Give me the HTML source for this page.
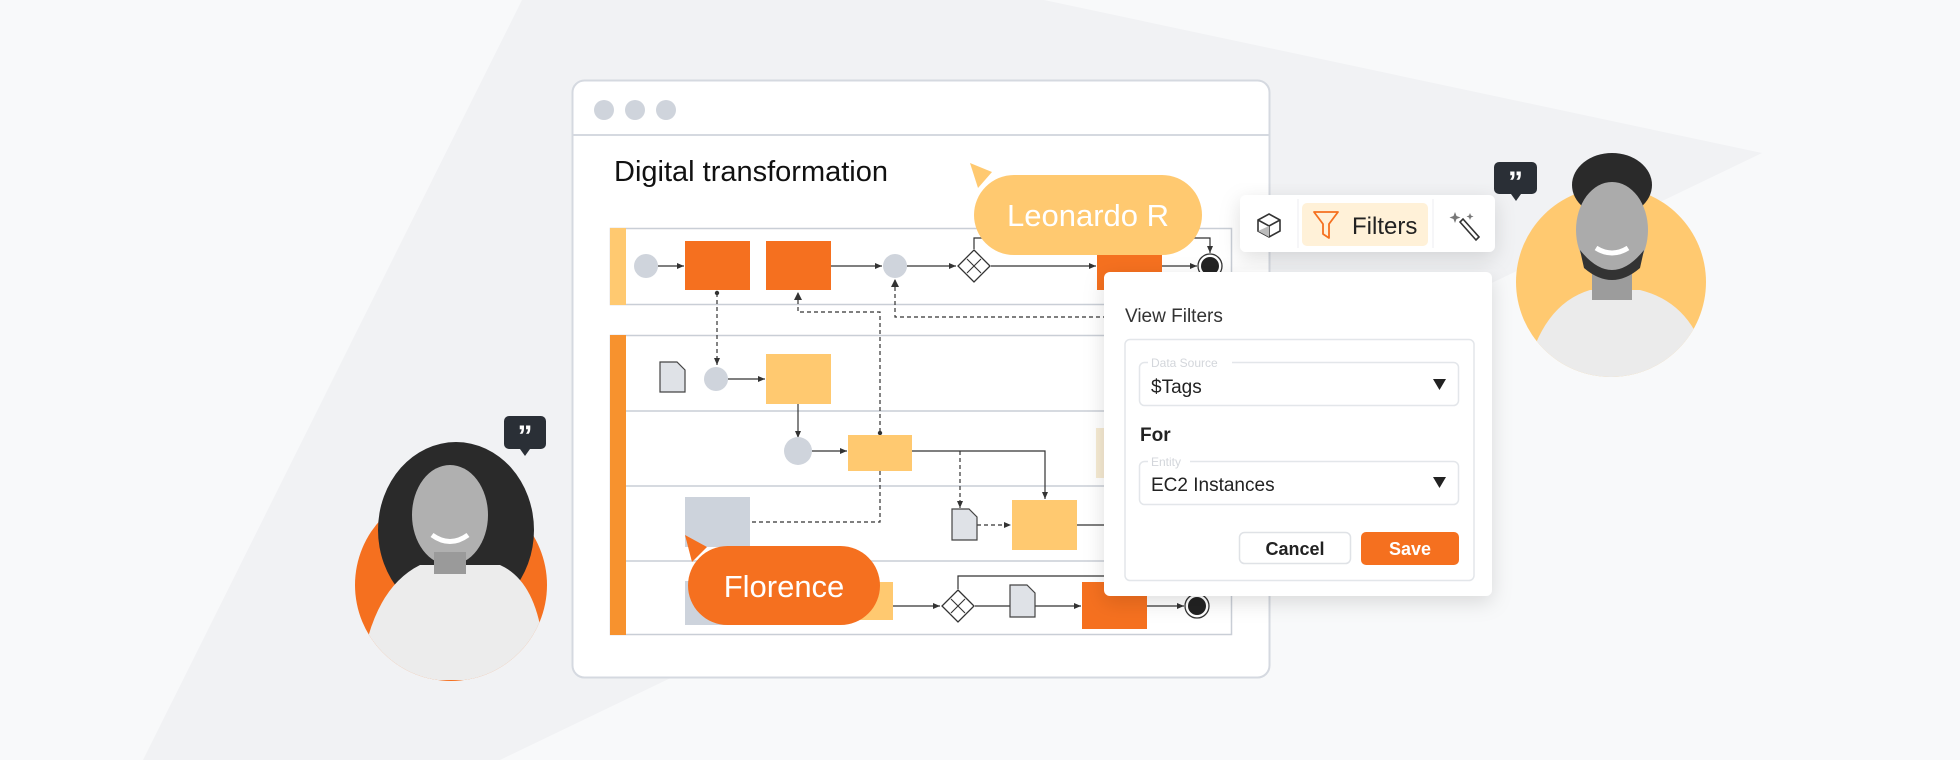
<!DOCTYPE html>
<html><head><meta charset="utf-8"><style>
html,body{margin:0;padding:0;width:1960px;height:760px;overflow:hidden;background:#f8f9fa}
svg{display:block}
text{font-family:"Liberation Sans",sans-serif}
</style></head><body>
<svg width="1960" height="760" viewBox="0 0 1960 760" xmlns="http://www.w3.org/2000/svg">
<defs>
<marker id="a" markerWidth="8" markerHeight="8" refX="7" refY="4" orient="auto" markerUnits="userSpaceOnUse"><path d="M0,1 L7,4 L0,7z" fill="#333"/></marker>
<marker id="d" markerWidth="6" markerHeight="6" refX="3" refY="3" markerUnits="userSpaceOnUse"><circle cx="3" cy="3" r="2.2" fill="#333"/></marker>
<filter id="sh" x="-20%" y="-20%" width="140%" height="150%"><feDropShadow dx="0" dy="6" stdDeviation="10" flood-color="#000" flood-opacity="0.13"/></filter>
<clipPath id="c1"><circle cx="451" cy="585" r="96"/><rect x="340" y="400" width="230" height="185"/></clipPath>
<clipPath id="c2"><circle cx="1611" cy="282" r="95"/><rect x="1500" y="140" width="230" height="142"/></clipPath>
</defs>
<polygon points="522,0 1044,0 1762,153 500,760 143,760" fill="#f1f2f4"/>

<rect x="572.5" y="80.5" width="697" height="597" rx="12" fill="#fff" stroke="#d5d9e0" stroke-width="2"/>
<line x1="573" y1="135" x2="1269" y2="135" stroke="#d5d9e0" stroke-width="2"/>
<circle cx="604" cy="110" r="10" fill="#cfd4dc"/><circle cx="635" cy="110" r="10" fill="#cfd4dc"/><circle cx="666" cy="110" r="10" fill="#cfd4dc"/>
<text x="614" y="181" font-size="29" fill="#111">Digital transformation</text>

<rect x="610.5" y="228.5" width="621" height="76" fill="#fff" stroke="#c9ced6" stroke-width="1.5"/>
<rect x="610" y="228" width="16" height="77" fill="#ffc970"/>
<rect x="610.5" y="335.5" width="621" height="299" fill="#fff" stroke="#c9ced6" stroke-width="1.5"/>
<rect x="610" y="335" width="16" height="300" fill="#f7922e"/>
<g stroke="#c9ced6" stroke-width="1.5"><line x1="626" y1="411" x2="1231" y2="411"/><line x1="626" y1="486" x2="1231" y2="486"/><line x1="626" y1="561" x2="1231" y2="561"/></g>

<g stroke="#333" stroke-width="1.2" fill="none">
<line x1="658" y1="266" x2="684" y2="266" marker-end="url(#a)"/>
<line x1="831" y1="266" x2="882" y2="266" marker-end="url(#a)"/>
<line x1="907" y1="266" x2="956" y2="266" marker-end="url(#a)"/>
<line x1="991" y1="266" x2="1096" y2="266" marker-end="url(#a)"/>
<line x1="1162" y1="266" x2="1197" y2="266" marker-end="url(#a)"/>
<path d="M974,249 V238 H1210 V253" marker-end="url(#a)"/>
<line x1="798" y1="404" x2="798" y2="438" marker-end="url(#a)"/>
<line x1="728" y1="379" x2="765" y2="379" marker-end="url(#a)"/>
<line x1="812" y1="451" x2="847" y2="451" marker-end="url(#a)"/>
<path d="M912,451 H1045 V499" marker-end="url(#a)"/>
<line x1="1077" y1="525" x2="1104" y2="525"/>
<line x1="893" y1="606" x2="940" y2="606" marker-end="url(#a)"/>
<line x1="975" y1="606" x2="1010" y2="606"/>
<line x1="1035" y1="606" x2="1081" y2="606" marker-end="url(#a)"/>
<line x1="1147" y1="606" x2="1184" y2="606" marker-end="url(#a)"/>
<path d="M958,589 V576 H1104"/>
</g>
<g stroke="#333" stroke-width="1.2" fill="none" stroke-dasharray="4,3">
<line x1="717" y1="293" x2="717" y2="365" marker-start="url(#d)" marker-end="url(#a)"/>
<path d="M798,293 V312 H880 V433" marker-end="url(#d)"/>
<path d="M895,280 V317 H1104"/>
<path d="M880,471 V522 H750"/>
<line x1="960" y1="451" x2="960" y2="508" marker-end="url(#a)"/>
<line x1="977" y1="525" x2="1011" y2="525" marker-end="url(#a)"/>
</g>
<path d="M794,300 L798,292 L802,300z" fill="#333"/>
<path d="M891,287 L895,279 L899,287z" fill="#333"/>

<circle cx="646" cy="266" r="12" fill="#cfd4dc"/>
<rect x="685" y="241" width="65" height="49" fill="#f5701f"/>
<rect x="766" y="241" width="65" height="49" fill="#f5701f"/>
<circle cx="895" cy="266" r="12" fill="#cfd4dc"/>
<g transform="translate(974,266)"><path d="M0,-16 L16,0 L0,16 L-16,0z" fill="#fff" stroke="#333" stroke-width="1.3"/><path d="M-7,-7 L7,7 M7,-7 L-7,7" stroke="#333" stroke-width="1.1"/></g>
<rect x="1097" y="241" width="65" height="49" fill="#f5701f"/>
<circle cx="1210" cy="266" r="12" fill="#fff" stroke="#333" stroke-width="1.3"/><circle cx="1210" cy="266" r="9" fill="#222"/>

<path d="M660,362 H677 L685,370 V392 H660z" fill="#dfe2e7" stroke="#444" stroke-width="1.2"/>
<circle cx="716" cy="379" r="12" fill="#cfd4dc"/>
<rect x="766" y="354" width="65" height="50" fill="#ffc970"/>
<circle cx="798" cy="451" r="14" fill="#cfd4dc"/>
<rect x="848" y="435" width="64" height="36" fill="#ffc970"/>
<rect x="1096" y="428" width="10" height="50" fill="#f6ead2"/>
<rect x="685" y="497" width="65" height="50" fill="#cdd3dc"/>
<path d="M952,509 H969 L977,517 V540 H952z" fill="#dfe2e7" stroke="#444" stroke-width="1.2"/>
<rect x="1012" y="500" width="65" height="50" fill="#ffc970"/>
<rect x="685" y="581" width="60" height="44" fill="#cdd3dc"/>
<rect x="860" y="582" width="33" height="38" fill="#ffc970"/>
<g transform="translate(958,606)"><path d="M0,-16 L16,0 L0,16 L-16,0z" fill="#fff" stroke="#333" stroke-width="1.3"/><path d="M-7,-7 L7,7 M7,-7 L-7,7" stroke="#333" stroke-width="1.1"/></g>
<path d="M1010,585 H1027 L1035,593 V617 H1010z" fill="#dfe2e7" stroke="#444" stroke-width="1.2"/>
<rect x="1082" y="582" width="65" height="47" fill="#f5701f"/>
<circle cx="1197" cy="606" r="12" fill="#fff" stroke="#333" stroke-width="1.3"/><circle cx="1197" cy="606" r="9" fill="#222"/>

<path d="M970,163 L992,172 L978,188z" fill="#ffc970"/>
<rect x="974" y="175" width="228" height="80" rx="40" fill="#ffc970"/>
<text x="1088" y="226" font-size="31" fill="#fff" text-anchor="middle">Leonardo R</text>
<path d="M685,535 L707,547 L692,562z" fill="#f5701f"/>
<rect x="688" y="546" width="192" height="79" rx="39.5" fill="#f5701f"/>
<text x="784" y="597" font-size="31" fill="#fff" text-anchor="middle">Florence</text>

<g filter="url(#sh)"><rect x="1240" y="195" width="255" height="57" rx="6" fill="#fff"/></g>
<line x1="1298" y1="199" x2="1298" y2="248" stroke="#eceef1"/><line x1="1433" y1="199" x2="1433" y2="248" stroke="#eceef1"/>
<rect x="1302" y="203" width="126" height="43" rx="5" fill="#fff1d8"/>
<g transform="translate(1269,225)" stroke="#333" stroke-width="1.6" fill="none"><path d="M0,-11 L11,-5 L11,6 L0,12 L-11,6 L-11,-5z M-11,-5 L0,1 L11,-5 M0,1 V12"/><path d="M-11,6 L0,1 L0,12z" fill="#bbb" stroke="none"/></g>
<path d="M1314,212 H1338 L1329,224 V238 L1323,234 V224z" fill="none" stroke="#f5701f" stroke-width="1.8" stroke-linejoin="round"/>
<text x="1352" y="234" font-size="24" fill="#222">Filters</text>
<g stroke="#333" stroke-width="1.6" fill="none"><path d="M1460,222 L1476,240 L1479,237 L1463,219z"/></g>
<path d="M1455,212 l1.5,4 4,1.5 -4,1.5 -1.5,4 -1.5,-4 -4,-1.5 4,-1.5z" fill="#777"/><path d="M1470,213 l1,2.5 2.5,1 -2.5,1 -1,2.5 -1,-2.5 -2.5,-1 2.5,-1z" fill="#777"/>

<g filter="url(#sh)"><rect x="1104" y="272" width="388" height="324" rx="6" fill="#fff"/></g>
<text x="1125" y="322" font-size="19" fill="#333">View Filters</text>
<rect x="1125" y="339.5" width="349" height="241" rx="5" fill="#fff" stroke="#e3e6ea" stroke-width="1.5"/>
<rect x="1139.5" y="362.5" width="319" height="43" rx="5" fill="#fff" stroke="#e3e6ea" stroke-width="1.5"/>
<rect x="1148" y="355" width="84" height="14" fill="#fff"/>
<text x="1151" y="367" font-size="12" fill="#d3d6db">Data Source</text>
<text x="1151" y="393" font-size="19" fill="#222">$Tags</text>
<path d="M1433,379 H1446 L1439.5,390z" fill="#222"/>
<text x="1140" y="441" font-size="19" font-weight="bold" fill="#222">For</text>
<rect x="1139.5" y="461.5" width="319" height="43" rx="5" fill="#fff" stroke="#e3e6ea" stroke-width="1.5"/>
<rect x="1148" y="454" width="42" height="14" fill="#fff"/>
<text x="1151" y="466" font-size="12" fill="#d3d6db">Entity</text>
<text x="1151" y="491" font-size="19" fill="#222">EC2 Instances</text>
<path d="M1433,477 H1446 L1439.5,488z" fill="#222"/>
<rect x="1239.5" y="532.5" width="111" height="31" rx="5" fill="#fff" stroke="#dfe2e6" stroke-width="1.5"/>
<text x="1295" y="555" font-size="18" font-weight="bold" fill="#222" text-anchor="middle">Cancel</text>
<rect x="1361" y="532" width="98" height="33" rx="5" fill="#f5701f"/>
<text x="1410" y="555" font-size="18" font-weight="bold" fill="#fff" text-anchor="middle">Save</text>

<circle cx="451" cy="585" r="96" fill="#f5701f"/>
<g clip-path="url(#c1)">
<ellipse cx="456" cy="530" rx="78" ry="88" fill="#2a2a2a"/>
<path d="M360,680 Q370,590 420,565 L500,565 Q545,585 545,680z" fill="#ececec"/>
<ellipse cx="450" cy="515" rx="38" ry="50" fill="#b0b0b0"/>
<rect x="434" y="552" width="32" height="22" fill="#9a9a9a"/>
<path d="M432,535 Q450,548 468,535" stroke="#fff" stroke-width="5" fill="none"/>
</g>
<g transform="translate(504,416)"><rect width="42" height="33" rx="5" fill="#2a2f36"/><path d="M16,33 L21,40 L26,33z" fill="#2a2f36"/><text x="21" y="30" font-size="30" font-weight="bold" fill="#fff" text-anchor="middle">”</text></g>

<circle cx="1611" cy="282" r="95" fill="#ffc970"/>
<g clip-path="url(#c2)">
<ellipse cx="1612" cy="185" rx="40" ry="32" fill="#2a2a2a"/>
<path d="M1525,380 Q1540,305 1590,290 L1640,290 Q1700,305 1710,380z" fill="#ebebeb"/>
<rect x="1592" y="265" width="40" height="35" fill="#9c9c9c"/>
<ellipse cx="1612" cy="230" rx="36" ry="48" fill="#ababab"/>
<path d="M1580,250 Q1612,290 1644,250 L1640,268 Q1612,292 1584,268z" fill="#333"/>
<path d="M1596,248 Q1612,258 1628,248" stroke="#fff" stroke-width="5" fill="none"/>
</g>
<g transform="translate(1494,162)"><rect width="43" height="32" rx="5" fill="#2a2f36"/><path d="M17,32 L22,39 L27,32z" fill="#2a2f36"/><text x="21.5" y="30" font-size="30" font-weight="bold" fill="#fff" text-anchor="middle">”</text></g>
</svg>
</body></html>
